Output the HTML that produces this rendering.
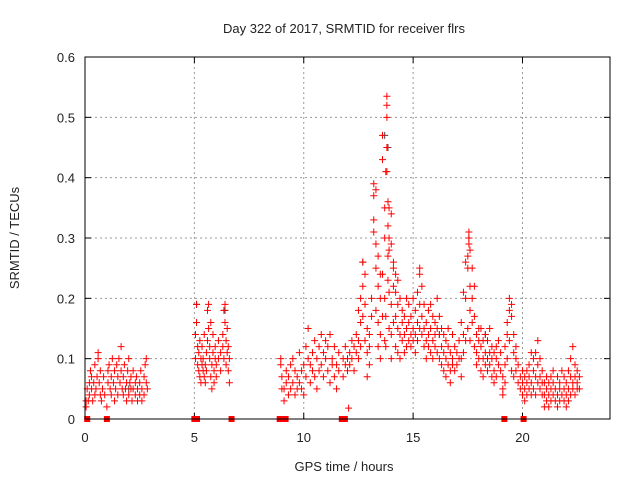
<!DOCTYPE html>
<html><head><meta charset="utf-8"><style>
body{margin:0;background:#fff}
svg text{font-family:"Liberation Sans",sans-serif;font-size:13px;fill:#222}
</style></head><body>
<svg width="640" height="480" xmlns="http://www.w3.org/2000/svg">
<rect width="640" height="480" fill="#fff"/>
<text x="344" y="33" text-anchor="middle">Day 322 of 2017, SRMTID for receiver flrs</text>
<text x="344" y="471" text-anchor="middle">GPS time / hours</text>
<text transform="translate(19,238) rotate(-90)" text-anchor="middle">SRMTID / TECUs</text>
<g id="grid"></g>
<g id="axes"></g>
<g id="marks"></g>
<rect x="85" y="57" width="525" height="362" fill="none" stroke="#000" stroke-width="1"/>
</svg>
<script>
const xTicks=[0,5,10,15,20];
const yTicks=[0,0.1,0.2,0.3,0.4,0.5,0.6];
const yTickLabels=["0","0.1","0.2","0.3","0.4","0.5","0.6"];
const zeroTimes=[0.1,1.0,5.0,5.12,6.7,8.9,9.17,11.74,11.88,19.17,20.05];
const darkPoints=[[13.7,0.47],[13.85,0.45],[5.1,0.19],[6.4,0.18],[17.55,0.3],[18.3,0.14],[12.7,0.26],[2.0,0.05],[16.2,0.14]];
const segA=[[0.05,.02],[0.05,.03],[0.1,.05],[0.15,.03],[0.2,.06],[0.2,.04],[0.25,.08],[0.3,.05],[0.3,.07],[0.35,.03],[0.4,.06],[0.45,.09],[0.45,.04],[0.5,.05],[0.55,.07],[0.6,.1],[0.6,.11],[0.65,.06],[0.7,.04],[0.7,.08],[0.75,.03],[0.8,.05],[0.85,.07],[0.9,.04],[1.0,.02],[1.05,.06],[1.05,.08],[1.1,.09],[1.15,.05],[1.2,.07],[1.2,.04],[1.25,.1],[1.3,.06],[1.35,.08],[1.35,.03],[1.4,.05],[1.45,.09],[1.5,.07],[1.5,.04],[1.55,.1],[1.6,.06],[1.65,.12],[1.65,.08],[1.7,.05],[1.75,.07],[1.75,.04],[1.8,.09],[1.85,.05],[1.9,.06],[1.9,.03],[1.95,.08],[2.0,.04],[2.0,.1],[2.05,.06],[2.1,.05],[2.1,.07],[2.15,.03],[2.2,.05],[2.2,.08],[2.3,.06],[2.3,.04],[2.35,.07],[2.4,.05],[2.4,.03],[2.5,.04],[2.5,.06],[2.55,.08],[2.6,.05],[2.6,.03],[2.7,.07],[2.7,.04],[2.75,.09],[2.8,.06],[2.8,.1],[2.85,.05]];
const segB=[[5.05,.1],[5.05,.14],[5.1,.19],[5.1,.16],[5.15,.12],[5.15,.09],[5.2,.08],[5.2,.11],[5.25,.13],[5.25,.07],[5.3,.1],[5.3,.06],[5.35,.09],[5.35,.12],[5.4,.08],[5.4,.1],[5.45,.14],[5.45,.07],[5.5,.06],[5.5,.09],[5.55,.11],[5.55,.08],[5.6,.18],[5.6,.13],[5.65,.19],[5.65,.15],[5.7,.12],[5.7,.1],[5.75,.16],[5.75,.07],[5.8,.09],[5.8,.05],[5.85,.11],[5.85,.14],[5.9,.08],[5.9,.06],[5.95,.1],[5.95,.12],[6.0,.07],[6.0,.09],[6.1,.13],[6.1,.1],[6.2,.08],[6.2,.11],[6.3,.14],[6.3,.12],[6.35,.18],[6.35,.1],[6.4,.19],[6.4,.16],[6.45,.13],[6.45,.09],[6.5,.11],[6.5,.15],[6.55,.08],[6.55,.12],[6.6,.06],[6.6,.1]];
const segC=[[8.95,.1],[8.95,.09],[9.0,.07],[9.0,.05],[9.1,.05],[9.1,.03],[9.2,.06],[9.2,.08],[9.3,.04],[9.3,.07],[9.4,.09],[9.4,.05],[9.5,.06],[9.5,.1],[9.6,.04],[9.6,.08],[9.7,.07],[9.7,.05],[9.8,.06],[9.8,.11],[9.9,.08],[9.9,.05],[10.0,.04],[10.0,.09],[10.1,.12],[10.1,.07],[10.2,.15],[10.2,.1],[10.3,.06],[10.3,.09],[10.4,.11],[10.4,.08],[10.5,.07],[10.5,.13],[10.6,.1],[10.6,.05],[10.7,.12],[10.7,.08],[10.8,.09],[10.8,.14],[10.9,.07],[10.9,.11],[11.0,.13],[11.0,.1],[11.1,.08],[11.1,.12],[11.2,.14],[11.2,.06],[11.3,.1],[11.3,.09],[11.4,.07],[11.4,.12],[11.5,.09],[11.5,.05],[11.6,.11],[11.6,.08],[11.8,.07],[11.8,.1],[11.9,.09],[11.9,.12],[12.0,.1],[12.0,.08],[12.05,.018],[12.1,.11],[12.1,.09],[12.2,.1],[12.2,.13],[12.3,.08],[12.3,.12],[12.4,.11],[12.4,.14],[12.5,.13],[12.5,.18],[12.5,.1],[12.6,.16],[12.6,.2],[12.6,.12],[12.7,.26],[12.7,.22],[12.7,.17],[12.8,.24],[12.8,.19],[12.8,.13],[12.9,.15],[12.9,.11],[12.9,.07],[13.0,.12],[13.0,.09],[13.0,.14],[13.1,.17],[13.1,.2],[13.2,.39],[13.2,.37],[13.2,.33],[13.2,.31],[13.3,.38],[13.3,.29],[13.3,.25],[13.3,.18],[13.4,.27],[13.4,.22],[13.4,.16],[13.4,.12],[13.5,.24],[13.5,.2],[13.5,.14],[13.5,.1],[13.6,.47],[13.6,.43],[13.6,.24],[13.6,.17],[13.7,.35],[13.7,.3],[13.7,.2],[13.7,.13],[13.75,.41],[13.75,.17],[13.75,.12],[13.8,.535],[13.8,.52],[13.8,.5],[13.8,.45],[13.8,.41],[13.85,.36],[13.85,.32],[13.85,.27],[13.85,.23],[13.9,.35],[13.9,.3],[13.9,.28],[13.9,.21],[13.9,.15],[14.0,.34],[14.0,.29],[14.0,.19],[14.0,.14],[14.0,.1],[14.1,.26],[14.1,.22],[14.1,.25],[14.1,.16],[14.2,.21],[14.2,.24],[14.2,.12],[14.2,.17],[14.3,.23],[14.3,.19],[14.3,.15],[14.3,.11],[14.4,.2],[14.4,.14],[14.4,.1],[14.5,.18],[14.5,.13],[14.5,.16],[14.6,.14],[14.6,.17],[14.6,.11],[14.7,.2],[14.7,.15],[14.7,.12],[14.8,.19],[14.8,.16],[14.8,.13],[14.9,.17],[14.9,.14],[14.9,.12],[15.0,.15],[15.0,.2],[15.0,.13],[15.1,.18],[15.1,.14],[15.1,.11],[15.2,.16],[15.2,.21],[15.2,.13],[15.3,.24],[15.3,.25],[15.3,.19],[15.3,.15],[15.4,.22],[15.4,.17],[15.4,.14],[15.5,.19],[15.5,.15],[15.5,.12],[15.6,.16],[15.6,.13],[15.6,.1],[15.7,.18],[15.7,.14],[15.7,.12],[15.8,.15],[15.8,.19],[15.8,.11],[15.9,.13],[15.9,.17],[15.9,.1],[16.0,.16],[16.0,.12],[16.0,.14],[16.1,.2],[16.1,.15],[16.1,.11],[16.2,.14],[16.2,.17],[16.2,.1],[16.3,.12],[16.3,.15],[16.3,.09],[16.4,.14],[16.4,.11],[16.4,.08],[16.5,.1],[16.5,.13],[16.5,.07],[16.6,.12],[16.6,.09],[16.6,.15],[16.7,.08],[16.7,.11],[16.7,.06],[16.8,.1],[16.8,.14],[16.8,.09],[16.9,.12],[16.9,.08],[17.0,.09],[17.0,.11],[17.1,.13],[17.1,.1],[17.2,.16],[17.2,.1],[17.2,.07],[17.3,.21],[17.3,.11],[17.3,.14],[17.4,.2],[17.4,.26],[17.4,.13],[17.5,.27],[17.5,.25],[17.5,.15],[17.55,.3],[17.55,.31],[17.55,.29],[17.6,.22],[17.6,.28],[17.6,.18],[17.6,.13],[17.7,.25],[17.7,.2],[17.7,.16],[17.8,.22],[17.8,.17],[17.8,.12],[17.9,.14],[17.9,.11],[17.9,.09],[18.0,.13],[18.0,.15],[18.0,.1],[18.1,.12],[18.1,.08],[18.1,.15],[18.2,.1],[18.2,.13],[18.2,.07],[18.3,.14],[18.3,.11],[18.3,.09],[18.4,.1],[18.4,.13],[18.4,.08],[18.5,.15],[18.5,.11],[18.5,.09],[18.6,.12],[18.6,.1],[18.6,.07],[18.7,.08],[18.7,.11],[18.7,.06],[18.8,.1],[18.8,.07],[18.8,.12],[18.9,.09],[18.9,.13],[19.0,.11],[19.0,.08],[19.1,.05],[19.1,.07],[19.1,.04],[19.2,.09],[19.2,.12],[19.2,.06],[19.3,.14],[19.3,.16],[19.3,.1],[19.4,.2],[19.4,.18],[19.4,.13],[19.5,.17],[19.5,.19],[19.5,.08],[19.6,.11],[19.6,.14],[19.6,.07],[19.7,.1],[19.7,.08],[19.7,.12],[19.8,.06],[19.8,.09],[19.9,.05],[19.9,.07],[20.0,.06],[20.0,.04],[20.0,.08],[20.1,.05],[20.1,.03],[20.1,.07],[20.2,.06],[20.2,.08],[20.2,.04],[20.3,.07],[20.3,.05],[20.3,.09],[20.4,.11],[20.4,.06],[20.4,.04],[20.5,.08],[20.5,.1],[20.5,.05],[20.6,.07],[20.6,.11],[20.6,.04],[20.7,.13],[20.7,.09],[20.7,.06],[20.8,.1],[20.8,.07],[20.8,.05],[20.9,.06],[20.9,.04],[20.9,.08],[21.0,.02],[21.0,.04],[21.0,.06],[21.1,.03],[21.1,.05],[21.1,.07],[21.2,.04],[21.2,.06],[21.2,.02],[21.3,.05],[21.3,.03],[21.3,.07],[21.4,.06],[21.4,.04],[21.4,.08],[21.5,.03],[21.5,.05],[21.6,.07],[21.6,.04],[21.6,.02],[21.7,.05],[21.7,.03],[21.7,.06],[21.8,.08],[21.8,.04],[21.9,.05],[21.9,.03],[21.9,.07],[22.0,.04],[22.0,.06],[22.0,.02],[22.1,.05],[22.1,.08],[22.1,.03],[22.2,.1],[22.2,.07],[22.2,.04],[22.3,.12],[22.3,.06],[22.3,.05],[22.4,.09],[22.4,.04],[22.4,.07],[22.5,.06],[22.5,.05],[22.5,.08],[22.6,.05],[22.6,.07]];

const X0=85,X1=610,Y0=419,Y1=57,XMAX=24,YMAX=0.6;
function xs(h){return X0+(X1-X0)*h/XMAX;}
function ys(v){return Y0-(Y0-Y1)*v/YMAX;}
const NS="http://www.w3.org/2000/svg";
function mk(tag,attrs,parent){const e=document.createElementNS(NS,tag);for(const k in attrs)e.setAttribute(k,attrs[k]);parent.appendChild(e);return e;}
const grid=document.getElementById('grid'),axes=document.getElementById('axes'),marks=document.getElementById('marks');
yTicks.forEach((v,i)=>{
  const y=ys(v);
  if(v>0&&v<YMAX){const g=mk('line',{x1:X0,x2:X1,y1:y,y2:y,stroke:'#999','stroke-dasharray':'2,3'},grid);
  
  }
  mk('line',{x1:X0,x2:X0+6,y1:y,y2:y,stroke:'#000'},axes);
  mk('line',{x1:X1,x2:X1-6,y1:y,y2:y,stroke:'#000'},axes);
  const t=mk('text',{x:X0-10,y:y+5,'text-anchor':'end'},axes);t.textContent=yTickLabels[i];
  
  
});
xTicks.forEach(h=>{
  const x=xs(h);
  if(h>0){const g=mk('line',{x1:x,x2:x,y1:Y0,y2:Y1,stroke:'#999','stroke-dasharray':'2,3'},grid);
  
  }
  mk('line',{x1:x,x2:x,y1:Y0,y2:Y0-6,stroke:'#000'},axes);
  mk('line',{x1:x,x2:x,y1:Y1,y2:Y1+6,stroke:'#000'},axes);
  const t=mk('text',{x:x,y:Y0+23,'text-anchor':'middle'},axes);t.textContent=String(h);
  
  
});
function plus(h,v,color){
  const x=xs(h),y=ys(v);
  const p=mk('path',{d:`M${x-3.5} ${y}H${x+3.5}M${x} ${y-3.5}V${y+3.5}`,stroke:color,'stroke-width':1,fill:'none'},marks);
  
  
}
darkPoints.forEach(p=>plus(p[0],p[1],'#444'));
[segA,segB,segC].forEach(s=>s.forEach(p=>plus(p[0],p[1],'#f00')));
zeroTimes.forEach(h=>{
  const r=mk('rect',{x:xs(h)-3,y:ys(0)-3,width:6,height:6,fill:'#f00'},marks);
  
  
});
</script>
</body></html>
